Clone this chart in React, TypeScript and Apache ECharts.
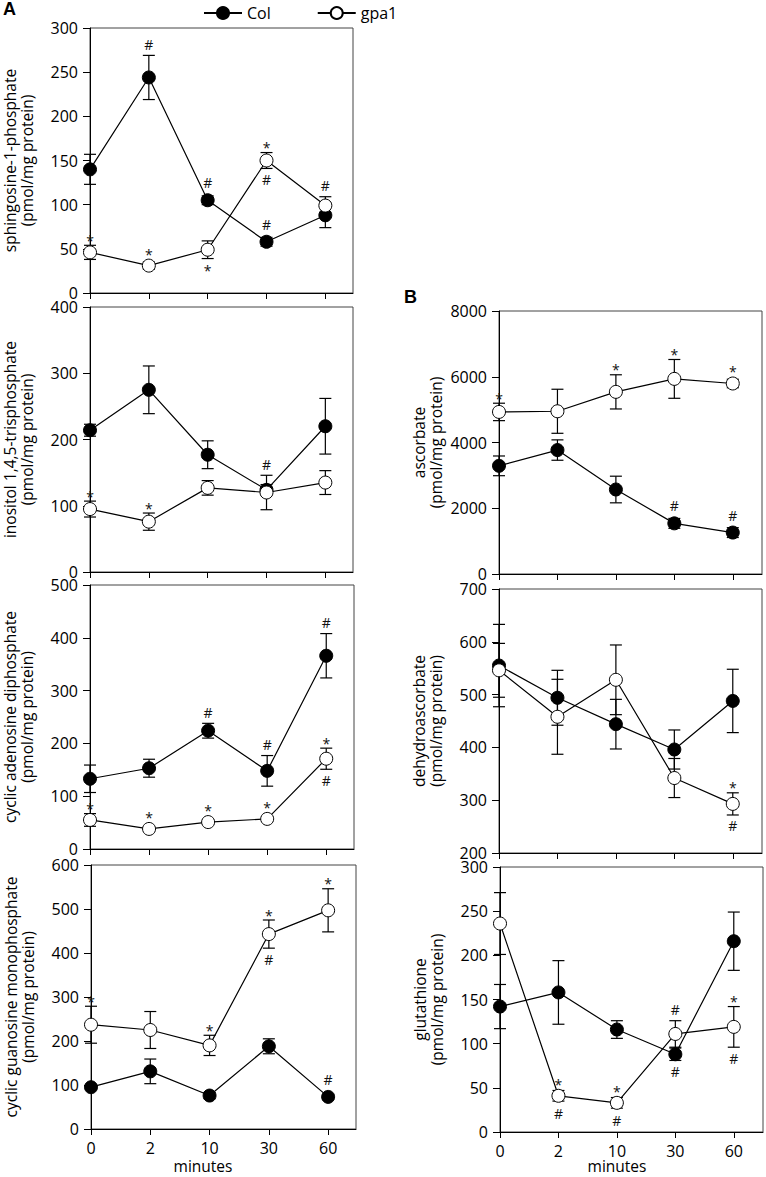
import React, { useEffect, useRef } from "react";
import * as echarts from "echarts";

const minutes = ["0", "2", "10", "30", "60"];
const seriesNames = ["Col", "gpa1"];

// A: sphingosine-1-phosphate
const s1pCol = [140, 244, 105, 58, 88];
const s1pColSem = [17, 25, 5, 5, 14];
const s1pGpa1 = [46, 31, 49, 150, 99];
const s1pGpa1Sem = [8, 4, 10, 9, 10];
const s1pColUp = ["", "#", "#", "#", ""];
const s1pColDown = ["", "", "", "", ""];
const s1pGpa1Up = ["*", "*", "", "*", "#"];
const s1pGpa1Down = ["", "", "*", "#", ""];

// A: inositol 1,4,5-trisphosphate
const ip3Col = [214, 275, 177, 124, 220];
const ip3ColSem = [9, 36, 21, 8, 42];
const ip3Gpa1 = [95, 76, 127, 120, 135];
const ip3Gpa1Sem = [12, 13, 11, 26, 18];
const ip3ColUp = ["", "", "", "", ""];
const ip3ColDown = ["", "", "", "", ""];
const ip3Gpa1Up = ["*", "*", "", "#", ""];
const ip3Gpa1Down = ["", "", "", "", ""];

// A: cyclic adenosine diphosphate
const cadpCol = [133, 153, 224, 148, 366];
const cadpColSem = [26, 17, 14, 29, 42];
const cadpGpa1 = [55, 38, 51, 57, 171];
const cadpGpa1Sem = [12, 3, 4, 4, 20];
const cadpColUp = ["", "", "#", "#", "#"];
const cadpColDown = ["", "", "", "", ""];
const cadpGpa1Up = ["*", "*", "*", "*", "*"];
const cadpGpa1Down = ["", "", "", "", "#"];

// A: cyclic guanosine monophosphate
const cgmpCol = [95, 131, 76, 188, 73];
const cgmpColSem = [5, 28, 7, 17, 6];
const cgmpGpa1 = [237, 225, 190, 443, 497];
const cgmpGpa1Sem = [42, 42, 23, 32, 49];
const cgmpColUp = ["", "", "", "", "#"];
const cgmpColDown = ["", "", "", "", ""];
const cgmpGpa1Up = ["*", "", "*", "*", "*"];
const cgmpGpa1Down = ["", "", "", "#", ""];

// B: ascorbate
const ascCol = [3290, 3770, 2570, 1540, 1260];
const ascColSem = [300, 310, 405, 150, 150];
const ascGpa1 = [4930, 4950, 5540, 5935, 5795];
const ascGpa1Sem = [265, 670, 520, 590, 130];
const ascColUp = ["", "", "", "#", "#"];
const ascColDown = ["", "", "", "", ""];
const ascGpa1Up = ["*", "", "*", "*", "*"];
const ascGpa1Down = ["", "", "", "", ""];

// B: dehydroascorbate
const dhaCol = [555, 494, 444, 396, 488];
const dhaColSem = [78, 52, 47, 37, 60];
const dhaGpa1 = [546, 458, 528, 342, 293];
const dhaGpa1Sem = [51, 71, 66, 37, 21];
const dhaColUp = ["", "", "", "", ""];
const dhaColDown = ["", "", "", "", ""];
const dhaGpa1Up = ["", "", "", "", "*"];
const dhaGpa1Down = ["", "", "", "", "#"];

// B: glutathione
const gshCol = [142, 158, 116, 88, 216];
const gshColSem = [25, 36, 10, 7, 33];
const gshGpa1 = [236, 41, 33, 111, 119];
const gshGpa1Sem = [35, 6, 6, 15, 23];
const gshColUp = ["", "", "", "", ""];
const gshColDown = ["", "", "", "#", ""];
const gshGpa1Up = ["", "*", "*", "#", "*"];
const gshGpa1Down = ["", "#", "#", "", "#"];

const FONT = "'Open Sans', 'DejaVu Sans', sans-serif";

type Panel = {
  name: string;
  min: number;
  max: number;
  interval: number;
  col: number[];
  colSem: number[];
  gpa: number[];
  gpaSem: number[];
  colUp: string[];
  colDown: string[];
  gpaUp: string[];
  gpaDown: string[];
  left: number;
  top: number;
  width: number;
  height: number;
  xMax: number;
  bottom: boolean;
};

const panels: Panel[] = [
  { name: "sphingosine-1-phosphate\n(pmol/mg protein)", min: 0, max: 300, interval: 50, col: s1pCol, colSem: s1pColSem, gpa: s1pGpa1, gpaSem: s1pGpa1Sem, colUp: s1pColUp, colDown: s1pColDown, gpaUp: s1pGpa1Up, gpaDown: s1pGpa1Down, left: 90, top: 28, width: 263, height: 265, xMax: 4.47, bottom: false },
  { name: "inositol 1,4,5-trisphosphate\n(pmol/mg protein)", min: 0, max: 400, interval: 100, col: ip3Col, colSem: ip3ColSem, gpa: ip3Gpa1, gpaSem: ip3Gpa1Sem, colUp: ip3ColUp, colDown: ip3ColDown, gpaUp: ip3Gpa1Up, gpaDown: ip3Gpa1Down, left: 90, top: 307, width: 263, height: 265, xMax: 4.47, bottom: false },
  { name: "cyclic adenosine diphosphate\n(pmol/mg protein)", min: 0, max: 500, interval: 100, col: cadpCol, colSem: cadpColSem, gpa: cadpGpa1, gpaSem: cadpGpa1Sem, colUp: cadpColUp, colDown: cadpColDown, gpaUp: cadpGpa1Up, gpaDown: cadpGpa1Down, left: 90, top: 585, width: 264, height: 264, xMax: 4.47, bottom: false },
  { name: "cyclic guanosine monophosphate\n(pmol/mg protein)", min: 0, max: 600, interval: 100, col: cgmpCol, colSem: cgmpColSem, gpa: cgmpGpa1, gpaSem: cgmpGpa1Sem, colUp: cgmpColUp, colDown: cgmpColDown, gpaUp: cgmpGpa1Up, gpaDown: cgmpGpa1Down, left: 91, top: 865, width: 265, height: 264, xMax: 4.47, bottom: true },
  { name: "ascorbate\n(pmol/mg protein)", min: 0, max: 8000, interval: 2000, col: ascCol, colSem: ascColSem, gpa: ascGpa1, gpaSem: ascGpa1Sem, colUp: ascColUp, colDown: ascColDown, gpaUp: ascGpa1Up, gpaDown: ascGpa1Down, left: 499, top: 311, width: 263, height: 263, xMax: 4.5, bottom: false },
  { name: "dehydroascorbate\n(pmol/mg protein)", min: 200, max: 700, interval: 100, col: dhaCol, colSem: dhaColSem, gpa: dhaGpa1, gpaSem: dhaGpa1Sem, colUp: dhaColUp, colDown: dhaColDown, gpaUp: dhaGpa1Up, gpaDown: dhaGpa1Down, left: 499, top: 589, width: 263, height: 264, xMax: 4.5, bottom: false },
  { name: "glutathione\n(pmol/mg protein)", min: 0, max: 300, interval: 50, col: gshCol, colSem: gshColSem, gpa: gshGpa1, gpaSem: gshGpa1Sem, colUp: gshColUp, colDown: gshColDown, gpaUp: gshGpa1Up, gpaDown: gshGpa1Down, left: 500, top: 867, width: 263, height: 265, xMax: 4.5, bottom: true },
];

const LINE_W = 1.2;

function errorSeries(gi: number, vals: number[], sems: number[], z: number) {
  return {
    type: "custom",
    xAxisIndex: gi,
    yAxisIndex: gi,
    z,
    silent: true,
    clip: false,
    data: vals.map((v, i) => [i, v, sems[i]]),
    renderItem: (params: any, api: any) => {
      const x = api.value(0);
      const v = api.value(1);
      const e = api.value(2);
      const top = api.coord([x, v + e]);
      const bot = api.coord([x, v - e]);
      const hw = 6;
      const style = { stroke: "#000", lineWidth: LINE_W };
      return {
        type: "group",
        children: [
          { type: "line", shape: { x1: top[0], y1: top[1], x2: bot[0], y2: bot[1] }, style },
          { type: "line", shape: { x1: top[0] - hw, y1: top[1], x2: top[0] + hw, y2: top[1] }, style },
          { type: "line", shape: { x1: bot[0] - hw, y1: bot[1], x2: bot[0] + hw, y2: bot[1] }, style },
        ],
      };
    },
  };
}

function markText(x: number, y: number, t: string) {
  return {
    type: "text",
    x,
    y,
    style: {
      text: t,
      fill: "#111",
      fontSize: 14,
      fontFamily: FONT,
      align: "center",
      verticalAlign: "middle",
    },
  };
}

function annotSeries(gi: number, vals: number[], sems: number[], up: string[], down: string[]) {
  return {
    type: "custom",
    xAxisIndex: gi,
    yAxisIndex: gi,
    z: 10,
    silent: true,
    clip: false,
    data: vals.map((v, i) => [i, v, sems[i]]),
    renderItem: (params: any, api: any) => {
      const i = params.dataIndex;
      const x = api.value(0);
      const v = api.value(1);
      const e = api.value(2);
      const c = api.coord([x, v]);
      const t = api.coord([x, v + e])[1];
      const b = api.coord([x, v - e])[1];
      const yTop = Math.min(t, c[1] - 6.5);
      const yBot = Math.max(b, c[1] + 6.5);
      const children: any[] = [];
      const u = up[i];
      const d = down[i];
      if (u) children.push(markText(c[0], u === "*" ? yTop - 5 : yTop - 11, u));
      if (d) children.push(markText(c[0], d === "*" ? yBot + 12 : yBot + 11, d));
      return { type: "group", children };
    },
  };
}

export default function App() {
  const ref = useRef<HTMLDivElement>(null);

  useEffect(() => {
    if (!ref.current) return;
    const chart = echarts.init(ref.current, undefined, { renderer: "svg" });

    const grids: any[] = [];
    const xAxes: any[] = [];
    const yAxes: any[] = [];
    const series: any[] = [];

    panels.forEach((p, gi) => {
      grids.push({
        left: p.left,
        top: p.top,
        width: p.width,
        height: p.height,
        show: true,
        borderColor: "#444",
        borderWidth: 1,
        backgroundColor: "transparent",
      });
      xAxes.push({
        type: "value",
        gridIndex: gi,
        min: 0,
        max: p.xMax,
        interval: 1,
        axisLine: { onZero: false, lineStyle: { color: "#000", width: 1 } },
        axisTick: { show: true, inside: false, length: 6, customValues: [0, 1, 2, 3, 4], lineStyle: { color: "#000" } },
        axisLabel: {
          show: p.bottom,
          customValues: [0, 1, 2, 3, 4],
          formatter: (val: number) => minutes[Math.round(val)] ?? "",
          color: "#000",
          fontSize: 16,
          fontFamily: FONT,
          margin: 11,
        },
        splitLine: { show: false },
      });
      yAxes.push({
        type: "value",
        gridIndex: gi,
        min: p.min,
        max: p.max,
        interval: p.interval,
        name: p.name,
        nameLocation: "middle",
        nameRotate: 90,
        nameGap: 55,
        nameTextStyle: { color: "#000", fontSize: 15.5, fontFamily: FONT, lineHeight: 17 },
        axisLine: { show: true, lineStyle: { color: "#000", width: 1 } },
        axisTick: { show: true, inside: false, length: 7, lineStyle: { color: "#000" } },
        axisLabel: {
          color: "#000",
          fontSize: 16,
          fontFamily: FONT,
          margin: 12,
          formatter: (val: number) => String(val),
        },
        splitLine: { show: false },
      });

      series.push(errorSeries(gi, p.col, p.colSem, 2));
      series.push(errorSeries(gi, p.gpa, p.gpaSem, 2));
      series.push({
        name: seriesNames[0],
        type: "line",
        xAxisIndex: gi,
        yAxisIndex: gi,
        z: 3,
        data: p.col.map((v, i) => [i, v]),
        symbol: "circle",
        symbolSize: 13,
        showAllSymbol: true,
        lineStyle: { color: "#000", width: LINE_W },
        itemStyle: { color: "#000", borderColor: "#000", borderWidth: 1 },
      });
      series.push({
        name: seriesNames[1],
        type: "line",
        xAxisIndex: gi,
        yAxisIndex: gi,
        z: 4,
        data: p.gpa.map((v, i) => [i, v]),
        symbol: "circle",
        symbolSize: 13,
        showAllSymbol: true,
        lineStyle: { color: "#000", width: LINE_W },
        itemStyle: { color: "#fff", borderColor: "#000", borderWidth: 1 },
      });
      series.push(annotSeries(gi, p.col, p.colSem, p.colUp, p.colDown));
      series.push(annotSeries(gi, p.gpa, p.gpaSem, p.gpaUp, p.gpaDown));
    });

    chart.setOption({
      animation: false,
      backgroundColor: "#fff",
      textStyle: { fontFamily: FONT },
      legend: {
        data: seriesNames,
        left: 198,
        top: 0,
        itemWidth: 38,
        itemHeight: 15,
        itemGap: 46,
        textStyle: { color: "#000", fontSize: 16, fontFamily: FONT },
      },
      grid: grids,
      xAxis: xAxes,
      yAxis: yAxes,
      series,
      graphic: [
        { type: "text", left: 3, top: 0, style: { text: "A", fontSize: 18, fontWeight: "bold", fontFamily: "'Liberation Sans', Arial, sans-serif", fill: "#000" } },
        { type: "text", left: 404, top: 288, style: { text: "B", fontSize: 18, fontWeight: "bold", fontFamily: "'Liberation Sans', Arial, sans-serif", fill: "#000" } },
        { type: "text", x: 203, y: 1166, style: { text: "minutes", fontSize: 15.5, fontFamily: FONT, fill: "#000", align: "center", verticalAlign: "middle" } },
        { type: "text", x: 617, y: 1166, style: { text: "minutes", fontSize: 15.5, fontFamily: FONT, fill: "#000", align: "center", verticalAlign: "middle" } },
      ],
    });

    return () => chart.dispose();
  }, []);

  return (
    <div
      ref={ref}
      style={{ position: "absolute", left: 0, top: 0, width: 766, height: 1177, background: "#fff" }}
    />
  );
}
